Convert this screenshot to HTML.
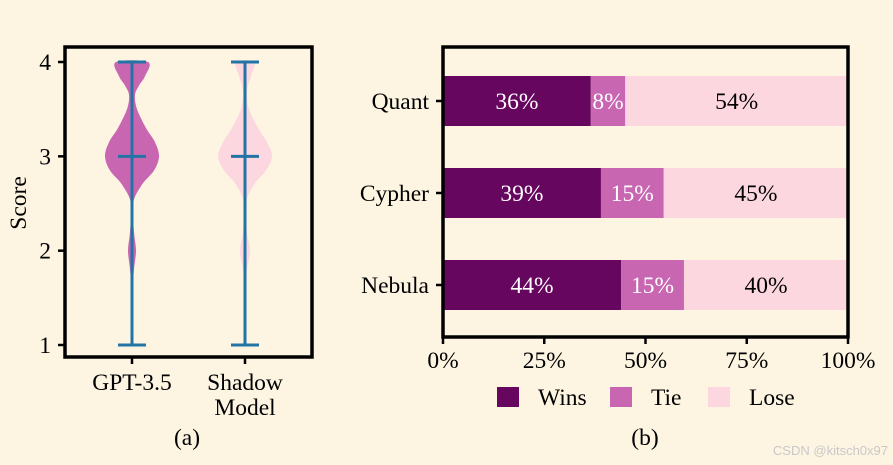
<!DOCTYPE html>
<html><head><meta charset="utf-8"><style>
html,body{margin:0;padding:0;background:#fdf5e2;}
svg{display:block;}
svg text{font-family:"Liberation Serif","Times New Roman",serif;}
</style></head><body>
<svg id="chart" width="893" height="465" viewBox="0 0 893 465" xmlns="http://www.w3.org/2000/svg">
<rect x="0" y="0" width="893" height="465" fill="#fdf5e2"/>
<g id="left"></g>
<g id="right"></g>
<text x="187" y="445" font-size="23.5" text-anchor="middle">(a)</text>
<text x="645" y="445" font-size="23.5" text-anchor="middle">(b)</text>
<text x="888" y="455" font-size="13" text-anchor="end" fill="#c8c8c8" style="font-family:'Liberation Sans',sans-serif">CSDN @kitsch0x97</text>
</svg>
<script>
// Violin data
const models = ["GPT-3.5", "Shadow Model"];
const scoreGrid = [1.0,1.5,1.8,2.0,2.2,2.5,2.7,2.85,3.0,3.15,3.3,3.5,3.65,3.75,3.85,4.0];
const gptWidth    = [0,0,2,4,2,1,10,22,27,23,14,5,3,7,13,16];
const shadowWidth = [0,0,2,5,2,1,9,21,27,22,13,4,2,3,6,9];
const violinWidths = [gptWidth, shadowWidth];
const violinColors = ["#c966b2","#fcd7e0"];
const medians = [3,3];
const mins = [1,1];
const maxs = [4,4];
const yTicks = [1,2,3,4];

// Bar data
const categories = ["Quant","Cypher","Nebula"];
const wins = [36.5,39,44];
const ties = [8.5,15.5,15.5];
const loses = [55,45.5,40.5];
const winLabels = ["36%","39%","44%"];
const tieLabels = ["8%","15%","15%"];
const loseLabels = ["54%","45%","40%"];
const xTicks = [0,25,50,75,100];
const xTickLabels = ["0%","25%","50%","75%","100%"];
const seriesNames = ["Wins","Tie","Lose"];
const seriesColors = ["#67065f","#c966b2","#fcd7e0"];

const NS = "http://www.w3.org/2000/svg";
const FS = 23.5;
function mk(parent, tag, attrs, text){
  const e = document.createElementNS(NS, tag);
  for (const k in attrs) e.setAttribute(k, attrs[k]);
  if (text !== undefined) e.textContent = text;
  parent.appendChild(e);
  return e;
}

// LEFT
const L = document.getElementById("left");
const yS = v => 345 - (v - 1) * 94.33;
const xModel = i => 132 + i * 113;
violinWidths.forEach((w, i) => {
  const cx = xModel(i);
  let right = [], left = [];
  scoreGrid.forEach((s, j) => { right.push([cx + w[j], yS(s)]); left.push([cx - w[j], yS(s)]); });
  const pts = right.concat(left.reverse());
  let d = "M" + pts[0][0] + "," + pts[0][1];
  for (let k = 0; k < pts.length - 1; k++) {
    const p0 = pts[Math.max(k-1,0)], p1 = pts[k], p2 = pts[k+1], p3 = pts[Math.min(k+2, pts.length-1)];
    const c1 = [p1[0] + (p2[0]-p0[0])/6, p1[1] + (p2[1]-p0[1])/6];
    const c2 = [p2[0] - (p3[0]-p1[0])/6, p2[1] - (p3[1]-p1[1])/6];
    d += " C" + c1 + " " + c2 + " " + p2;
  }
  d += "Z";
  const v = mk(L, "path", {d: d, fill: violinColors[i]});
  
  
  const stem = mk(L, "line", {x1: cx, x2: cx, y1: yS(mins[i]), y2: yS(maxs[i]), stroke: "#2274a5", "stroke-width": 3});
  
  
  [mins[i], medians[i], maxs[i]].forEach(val => {
    const c = mk(L, "line", {x1: cx - 14, x2: cx + 14, y1: yS(val), y2: yS(val), stroke: "#2274a5", "stroke-width": 3});
    
    
  });
  const lines = models[i].split(" ");
  lines.forEach((t, li) => {
    const tl = mk(L, "text", {x: cx, y: 390 + li * 25, "font-size": FS, "text-anchor": "middle"}, t);
    
    
  });
  const tk = mk(L, "line", {x1: cx, x2: cx, y1: 357, y2: 364, stroke: "#000", "stroke-width": 2.5});
  
  
});
const lbox = mk(L, "rect", {x: 65, y: 47, width: 247, height: 310, fill: "none", stroke: "#000", "stroke-width": 3.5});


yTicks.forEach(t => {
  const tk = mk(L, "line", {x1: 58, x2: 65, y1: yS(t), y2: yS(t), stroke: "#000", "stroke-width": 2.5});
  
  
  const tl = mk(L, "text", {x: 51, y: yS(t) + 8, "font-size": FS, "text-anchor": "end"}, String(t));
  
  
});
const yt = mk(L, "text", {x: 0, y: 0, "font-size": FS, "text-anchor": "middle", transform: "translate(26,203) rotate(-90)"}, "Score");



// RIGHT
const R = document.getElementById("right");
const xS = p => 443 + p * 4.05;
const yC = i => 101 + i * 92;
categories.forEach((c, i) => {
  const segs = [wins[i], ties[i], loses[i]];
  const labs = [winLabels[i], tieLabels[i], loseLabels[i]];
  let start = 0;
  segs.forEach((v, k) => {
    const end = Math.min(start + v, 100);
    const r = mk(R, "rect", {x: xS(start), y: yC(i) - 25, width: xS(end) - xS(start), height: 50, fill: seriesColors[k]});
    
    
    const t = mk(R, "text", {x: (xS(start) + xS(end)) / 2, y: yC(i) + 8, "font-size": FS, "text-anchor": "middle", fill: k === 2 ? "#000" : "#fff"}, labs[k]);
    
    
    start = end;
  });
  const tk = mk(R, "line", {x1: 436, x2: 443, y1: yC(i), y2: yC(i), stroke: "#000", "stroke-width": 2.5});
  
  
  const tl = mk(R, "text", {x: 429, y: yC(i) + 8, "font-size": FS, "text-anchor": "end"}, c);
  
  
});
const rbox = mk(R, "rect", {x: 443, y: 47, width: 405, height: 290, fill: "none", stroke: "#000", "stroke-width": 3.5});


xTicks.forEach((t, k) => {
  const tk = mk(R, "line", {x1: xS(t), x2: xS(t), y1: 337, y2: 344, stroke: "#000", "stroke-width": 2.5});
  
  
  const tl = mk(R, "text", {x: xS(t), y: 368, "font-size": FS, "text-anchor": "middle"}, xTickLabels[k]);
  
  
});
const legX = [497, 610, 708];
seriesNames.forEach((n, k) => {
  const sw = mk(R, "rect", {x: legX[k], y: 387, width: 22, height: 20, fill: seriesColors[k]});
  
  
  const tl = mk(R, "text", {x: legX[k] + 41, y: 405, "font-size": FS}, n);
  
  
});
</script>
</body></html>
